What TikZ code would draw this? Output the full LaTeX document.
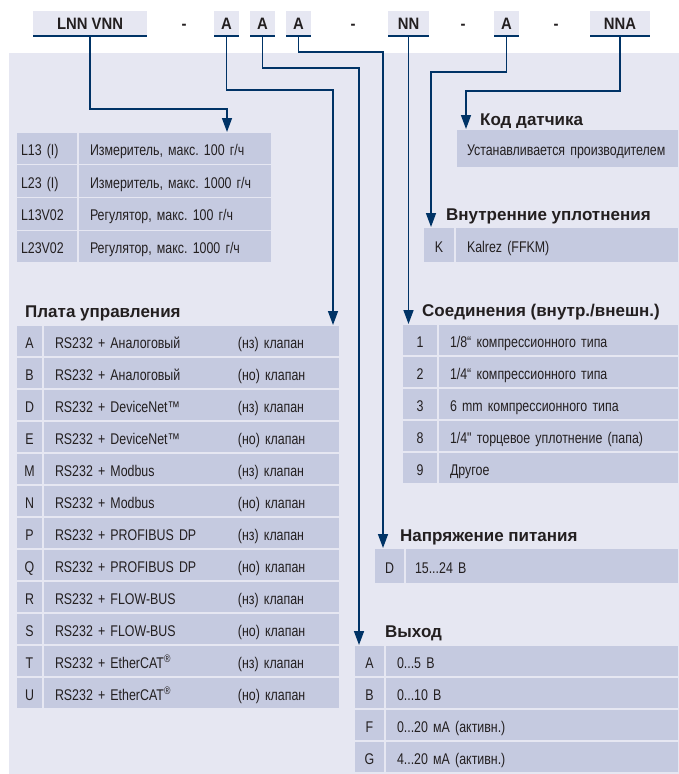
\documentclass[tikz,border=0pt]{standalone}
\usepackage{fontspec}
\setmainfont{Liberation Sans}
\newfontfamily\condfont{Liberation Sans}[FakeStretch=0.8, WordSpace=0.8]
\newfontfamily\hdrfont{Liberation Sans}[FakeStretch=0.9]
\usepackage{xcolor}
\usepackage{tikz}
\usetikzlibrary{
  arrows.meta,
  calc,
  positioning
}
\definecolor{panelbg}{RGB}{230,231,242}
\definecolor{cellblue}{RGB}{197,202,224}
\definecolor{linenavy}{RGB}{0,51,102}
\definecolor{textdark}{RGB}{35,31,32}
\frenchspacing

\begin{document}
\begin{tikzpicture}[
  x=1pt, y=-1pt,
  hdrbox/.style={fill=panelbg, minimum height=25pt, inner sep=0pt, outer sep=0pt, anchor=north west,
               text height=11pt, text depth=0pt, text=textdark,
               font=\hdrfont\bfseries\fontsize{16.5}{18}\selectfont,
               path picture={\draw[linenavy, line width=3pt]
                 (path picture bounding box.south west) -- (path picture bounding box.south east);}},
  hdrdash/.style={inner sep=0pt, anchor=base, text=textdark,
               font=\hdrfont\bfseries\fontsize{16.5}{18}\selectfont},
  heading/.style={anchor=base west, inner sep=0pt, text=textdark,
               font=\bfseries\fontsize{17}{20}\selectfont},
  cell/.style={fill=cellblue, draw=panelbg, line width=1.2pt, inner ysep=0pt, outer sep=0pt,
               minimum height=32pt, text height=14pt, text depth=0pt, text=textdark,
               font=\condfont\fontsize{15.5}{18}\selectfont},
  codecell/.style={cell, minimum width=#1, inner xsep=0pt},
  desccell/.style={cell, text width=#1, align=left, inner xsep=12pt},
  arr/.style={-{Triangle[width=10pt, length=14pt]}, line width=1.5pt, linenavy}
]
  \useasboundingbox (0,0) rectangle (679,774);
  \fill[white] (0,0) rectangle (679,774);
  \fill[panelbg] (9,53) rectangle (679,774);

  \node[hdrbox, minimum width=114pt] (hL) at (33,11) {LNN VNN};
  \node[hdrdash] (d1) at (184,29) {-};
  \node[hdrbox, minimum width=25pt] (hA1) at (214,11) {A};
  \node[hdrbox, minimum width=25pt] (hA2) at (250,11) {A};
  \node[hdrbox, minimum width=25pt] (hA3) at (286,11) {A};
  \node[hdrdash] (d2) at (353,29) {-};
  \node[hdrbox, minimum width=41pt] (hNN) at (388,11) {NN};
  \node[hdrdash] (d3) at (463,29) {-};
  \node[hdrbox, minimum width=25pt] (hA4) at (494,11) {A};
  \node[hdrdash] (d4) at (556,29) {-};
  \node[hdrbox, minimum width=60pt] (hNNA) at (590,11) {NNA};

  \node[desccell=52pt, inner xsep=5pt, minimum height=32.75pt, anchor=north west] (m1c) at (16,132) {L13 (I)};
  \node[desccell=170pt, minimum height=32.75pt, right=0pt of m1c] (m1d) {Измеритель, макс. 100 г/ч};
  \node[desccell=52pt, inner xsep=5pt, minimum height=32.75pt, below=0pt of m1c] (m2c) {L23 (I)};
  \node[desccell=170pt, minimum height=32.75pt, right=0pt of m2c] (m2d) {Измеритель, макс. 1000 г/ч};
  \node[desccell=52pt, inner xsep=5pt, minimum height=32.75pt, below=0pt of m2c] (m3c) {L13V02};
  \node[desccell=170pt, minimum height=32.75pt, right=0pt of m3c] (m3d) {Регулятор, макс. 100 г/ч};
  \node[desccell=52pt, inner xsep=5pt, minimum height=32.75pt, below=0pt of m3c] (m4c) {L23V02};
  \node[desccell=170pt, minimum height=32.75pt, right=0pt of m4c] (m4d) {Регулятор, макс. 1000 г/ч};

  \node[heading] (hdboard) at (25,317) {Плата управления};
  \node[codecell=27pt, anchor=north west] (p1c) at (16,325) {A};
  \node[desccell=273pt, right=0pt of p1c] (p1d) {\makebox[183pt][l]{RS232 + Аналоговый}(нз) клапан};
  \node[codecell=27pt, below=0pt of p1c] (p2c) {B};
  \node[desccell=273pt, right=0pt of p2c] (p2d) {\makebox[183pt][l]{RS232 + Аналоговый}(но) клапан};
  \node[codecell=27pt, below=0pt of p2c] (p3c) {D};
  \node[desccell=273pt, right=0pt of p3c] (p3d) {\makebox[183pt][l]{RS232 + DeviceNet™}(нз) клапан};
  \node[codecell=27pt, below=0pt of p3c] (p4c) {E};
  \node[desccell=273pt, right=0pt of p4c] (p4d) {\makebox[183pt][l]{RS232 + DeviceNet™}(но) клапан};
  \node[codecell=27pt, below=0pt of p4c] (p5c) {M};
  \node[desccell=273pt, right=0pt of p5c] (p5d) {\makebox[183pt][l]{RS232 + Modbus}(нз) клапан};
  \node[codecell=27pt, below=0pt of p5c] (p6c) {N};
  \node[desccell=273pt, right=0pt of p6c] (p6d) {\makebox[183pt][l]{RS232 + Modbus}(но) клапан};
  \node[codecell=27pt, below=0pt of p6c] (p7c) {P};
  \node[desccell=273pt, right=0pt of p7c] (p7d) {\makebox[183pt][l]{RS232 + PROFIBUS DP}(нз) клапан};
  \node[codecell=27pt, below=0pt of p7c] (p8c) {Q};
  \node[desccell=273pt, right=0pt of p8c] (p8d) {\makebox[183pt][l]{RS232 + PROFIBUS DP}(но) клапан};
  \node[codecell=27pt, below=0pt of p8c] (p9c) {R};
  \node[desccell=273pt, right=0pt of p9c] (p9d) {\makebox[183pt][l]{RS232 + FLOW-BUS}(нз) клапан};
  \node[codecell=27pt, below=0pt of p9c] (p10c) {S};
  \node[desccell=273pt, right=0pt of p10c] (p10d) {\makebox[183pt][l]{RS232 + FLOW-BUS}(но) клапан};
  \node[codecell=27pt, below=0pt of p10c] (p11c) {T};
  \node[desccell=273pt, right=0pt of p11c] (p11d) {\makebox[183pt][l]{RS232 + EtherCAT\textsuperscript{®}}(нз) клапан};
  \node[codecell=27pt, below=0pt of p11c] (p12c) {U};
  \node[desccell=273pt, right=0pt of p12c] (p12d) {\makebox[183pt][l]{RS232 + EtherCAT\textsuperscript{®}}(но) клапан};

  \node[heading] (hdcode) at (480,125) {Код датчика};
  \node[desccell=201pt, inner xsep=11pt, minimum height=39pt, anchor=north west] (s1) at (456,129) {Устанавливается производителем};

  \node[heading] (hdseal) at (446,220) {Внутренние уплотнения};
  \node[codecell=32pt, minimum height=36pt, anchor=north west] (k1c) at (423,227) {K};
  \node[desccell=200pt, minimum height=36pt, right=0pt of k1c] (k1d) {Kalrez (FFKM)};

  \node[heading] (hdconn) at (422,316) {Соединения (внутр./внешн.)};
  \node[codecell=36pt, anchor=north west] (c1c) at (402,324) {1};
  \node[desccell=217pt, right=0pt of c1c] (c1d) {1/8“ компрессионного типа};
  \node[codecell=36pt, below=0pt of c1c] (c2c) {2};
  \node[desccell=217pt, right=0pt of c2c] (c2d) {1/4“ компрессионного типа};
  \node[codecell=36pt, below=0pt of c2c] (c3c) {3};
  \node[desccell=217pt, right=0pt of c3c] (c3d) {6 mm компрессионного типа};
  \node[codecell=36pt, below=0pt of c3c] (c4c) {8};
  \node[desccell=217pt, right=0pt of c4c] (c4d) {1/4" торцевое уплотнение (папа)};
  \node[codecell=36pt, below=0pt of c4c] (c5c) {9};
  \node[desccell=217pt, right=0pt of c5c] (c5d) {Другое};

  \node[heading] (hdvolt) at (400,541) {Напряжение питания};
  \node[codecell=31pt, minimum height=36pt, anchor=north west] (v1c) at (374,548) {D};
  \node[desccell=254pt, inner xsep=10pt, minimum height=36pt, right=0pt of v1c] (v1d) {15...24 В};

  \node[heading] (hdout) at (385,637) {Выход};
  \node[codecell=31pt, anchor=north west] (o1c) at (354,645) {A};
  \node[desccell=270pt, right=0pt of o1c] (o1d) {0...5 В};
  \node[codecell=31pt, below=0pt of o1c] (o2c) {B};
  \node[desccell=270pt, right=0pt of o2c] (o2d) {0...10 В};
  \node[codecell=31pt, below=0pt of o2c] (o3c) {F};
  \node[desccell=270pt, right=0pt of o3c] (o3d) {0...20 мА (активн.)};
  \node[codecell=31pt, below=0pt of o3c] (o4c) {G};
  \node[desccell=270pt, right=0pt of o4c] (o4d) {4...20 мА (активн.)};

  \coordinate (jL) at (227,109);
  \coordinate (jA1) at (333,90);
  \coordinate (jA2) at (359,68);
  \coordinate (jA3) at (383,52);
  \coordinate (jA4) at (431,72);
  \coordinate (jNNA) at (466,91);

  \draw[arr] (hL.south) |- (jL) -- (jL |- m1d.north);
  \draw[arr] (hA1.south) |- (jA1) -- (jA1 |- p1d.north);
  \draw[arr] (hA2.south) |- (jA2) -- (jA2 |- o1d.north);
  \draw[arr] (hA3.south) |- (jA3) -- (jA3 |- v1d.north);
  \draw[arr] (hNN.south) -- (hNN.south |- c1d.north);
  \draw[arr] (hA4.south) |- (jA4) -- (jA4 |- k1d.north);
  \draw[arr] (hNNA.south) |- (jNNA) -- (jNNA |- s1.north);
\end{tikzpicture}
\end{document}
